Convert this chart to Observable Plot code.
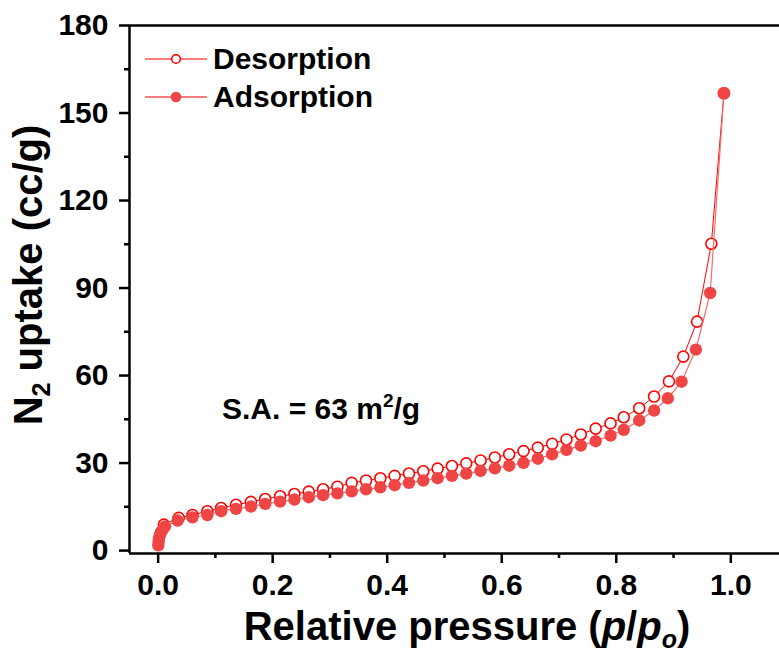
<!DOCTYPE html>
<html>
<head>
<meta charset="utf-8">
<script src="https://cdn.jsdelivr.net/npm/d3@7"></script>
<script src="https://cdn.jsdelivr.net/npm/@observablehq/plot@0.6"></script>
<style>
  html, body { margin: 0; padding: 0; background: #fff; overflow: hidden; }
  #chart svg { display: block; }
</style>
</head>
<body>
<div id="chart"></div>
<script>
// Desorption branch (open circles): relative pressure and uptake (cc/g)
const desP = [0.010, 0.036, 0.060, 0.086, 0.110, 0.136, 0.162, 0.187, 0.213, 0.238, 0.263, 0.288, 0.313,
  0.338, 0.363, 0.388, 0.413, 0.438, 0.463, 0.488, 0.513, 0.538, 0.563, 0.588, 0.613, 0.638, 0.663,
  0.688, 0.713, 0.738, 0.764, 0.790, 0.813, 0.840, 0.866, 0.892, 0.917, 0.941, 0.966, 0.988];
const desV = [8.9, 11.2, 12.2, 13.5, 14.6, 15.7, 16.7, 17.7, 18.6, 19.4, 20.2, 21.0, 21.9,
  23.2, 24.0, 24.8, 25.6, 26.4, 27.2, 28.1, 29.0, 29.9, 30.9, 31.9, 33.0, 34.1, 35.3,
  36.6, 38.1, 39.8, 41.8, 43.6, 45.7, 48.8, 52.8, 58.0, 66.5, 78.5, 105.2, 156.8];

// Adsorption branch (filled circles)
const adsP = [0.0003, 0.0008, 0.0015, 0.003, 0.005, 0.008, 0.012, 0.034, 0.060, 0.086, 0.110, 0.136,
  0.162, 0.187, 0.213, 0.238, 0.263, 0.288, 0.313, 0.338, 0.363, 0.388, 0.413, 0.438, 0.463, 0.488,
  0.513, 0.538, 0.563, 0.588, 0.613, 0.638, 0.663, 0.688, 0.713, 0.738, 0.764, 0.790, 0.813, 0.840,
  0.866, 0.890, 0.914, 0.939, 0.964, 0.988];
const adsV = [1.8, 3.0, 4.2, 5.3, 6.3, 7.3, 8.3, 10.3, 11.4, 12.2, 13.5, 14.3,
  15.1, 16.0, 16.8, 17.5, 18.3, 19.0, 19.6, 20.3, 21.0, 21.7, 22.4, 23.2, 24.0, 24.8,
  25.6, 26.4, 27.3, 28.2, 29.1, 30.1, 31.5, 33.0, 34.5, 36.0, 37.5, 39.4, 41.4, 44.6,
  48.0, 52.2, 57.9, 68.9, 88.3, 156.8];

const yTicks = [0, 30, 60, 90, 120, 150, 180];
const yMinor = [15, 45, 75, 105, 135, 165];
const xTicks = [0, 0.2, 0.4, 0.6, 0.8, 1.0];
const xMinor = [0.1, 0.3, 0.5, 0.7, 0.9];
const seriesNames = ["Desorption", "Adsorption"];
const saLabel = "S.A. = 63 m";

const des = desP.map((p, i) => ({p, v: desV[i]}));
const ads = adsP.map((p, i) => ({p, v: adsV[i]}));

const xDom = [-0.05, 1.085];
const yDom = [-1, 180];

const font = "'Liberation Sans', Arial, Helvetica, sans-serif";
const desColor = "#ff0000";
const adsColor = "#ef4545";

const chart = Plot.plot({
  width: 779,
  height: 657,
  marginLeft: 129,
  marginRight: 0,
  marginTop: 25,
  marginBottom: 104,
  style: {fontFamily: font, fontWeight: "bold", background: "white", color: "black"},
  x: {domain: xDom},
  y: {domain: yDom},
  marks: [
    Plot.ruleY([yDom[0]], {stroke: "black", strokeWidth: 2.5}),
    Plot.ruleY([yDom[1]], {stroke: "black", strokeWidth: 2.5}),
    Plot.ruleX([xDom[0]], {stroke: "black", strokeWidth: 2.5}),
    Plot.axisY({ticks: yTicks, tickSize: 10, tickPadding: 11, strokeWidth: 2.5, fontSize: 30, fontWeight: "bold", label: null, tickFormat: d => String(d), anchor: "left"}),
    Plot.axisY({ticks: yMinor, tickSize: 5, strokeWidth: 2.5, label: null, tickFormat: () => "", anchor: "left"}),
    Plot.axisX({ticks: xTicks, tickSize: 10, tickPadding: 10, strokeWidth: 2.5, fontSize: 30, fontWeight: "bold", label: null, tickFormat: d3.format(".1f"), anchor: "bottom"}),
    Plot.axisX({ticks: xMinor, tickSize: 5, strokeWidth: 2.5, label: null, tickFormat: () => "", anchor: "bottom"}),
    Plot.line(des, {x: "p", y: "v", stroke: desColor, strokeWidth: 1}),
    Plot.dot(des, {x: "p", y: "v", r: 5.5, stroke: desColor, strokeWidth: 1.6, fill: "white"}),
    Plot.line(ads, {x: "p", y: "v", stroke: "#f46a6a", strokeWidth: 1.2}),
    Plot.dot(ads, {x: "p", y: "v", r: 6.2, fill: adsColor, stroke: "none"})
  ]
});

document.getElementById("chart").appendChild(chart);

const svg = d3.select(chart);

// X axis title
const xt = svg.append("text")
  .attr("x", 467).attr("y", 640)
  .attr("text-anchor", "middle")
  .attr("font-family", font).attr("font-weight", "bold").attr("font-size", 40)
  .attr("fill", "black");
xt.append("tspan").text("Relative pressure (");
xt.append("tspan").attr("font-style", "italic").text("p");
xt.append("tspan").text("/");
xt.append("tspan").attr("font-style", "italic").text("p");
xt.append("tspan").attr("font-style", "italic").attr("font-size", 25).attr("dy", 8).text("o");
xt.append("tspan").attr("dy", -8).text(")");

// Y axis title
const yt = svg.append("text")
  .attr("transform", "translate(42,275) rotate(-90)")
  .attr("text-anchor", "middle")
  .attr("font-family", font).attr("font-weight", "bold").attr("font-size", 40)
  .attr("fill", "black");
yt.append("tspan").text("N");
yt.append("tspan").attr("font-size", 25).attr("dy", 8).text("2");
yt.append("tspan").attr("dy", -8).text(" uptake (cc/g)");

// Surface area annotation
const sa = svg.append("text")
  .attr("x", 222).attr("y", 419)
  .attr("text-anchor", "start")
  .attr("font-family", font).attr("font-weight", "bold").attr("font-size", 30)
  .attr("fill", "black");
sa.append("tspan").text(saLabel);
sa.append("tspan").attr("font-size", 19).attr("dy", -12).text("2");
sa.append("tspan").attr("dy", 12).text("/g");

// Legend
const leg = svg.append("g");
const legRows = [
  {name: seriesNames[0], y: 59, open: true},
  {name: seriesNames[1], y: 97, open: false}
];
legRows.forEach(r => {
  leg.append("line").attr("x1", 145).attr("x2", 207).attr("y1", r.y).attr("y2", r.y)
    .attr("stroke", "#ff4f4f").attr("stroke-width", 1.3);
  if (r.open) {
    leg.append("circle").attr("cx", 176).attr("cy", r.y).attr("r", 4.3)
      .attr("fill", "white").attr("stroke", desColor).attr("stroke-width", 1.6);
  } else {
    leg.append("circle").attr("cx", 176).attr("cy", r.y).attr("r", 5.3).attr("fill", adsColor);
  }
  leg.append("text").attr("x", 213).attr("y", r.y + 9.5)
    .attr("text-anchor", "start")
    .attr("font-family", font).attr("font-weight", "bold").attr("font-size", 30)
    .attr("fill", "black").text(r.name);
});
</script>
</body>
</html>
